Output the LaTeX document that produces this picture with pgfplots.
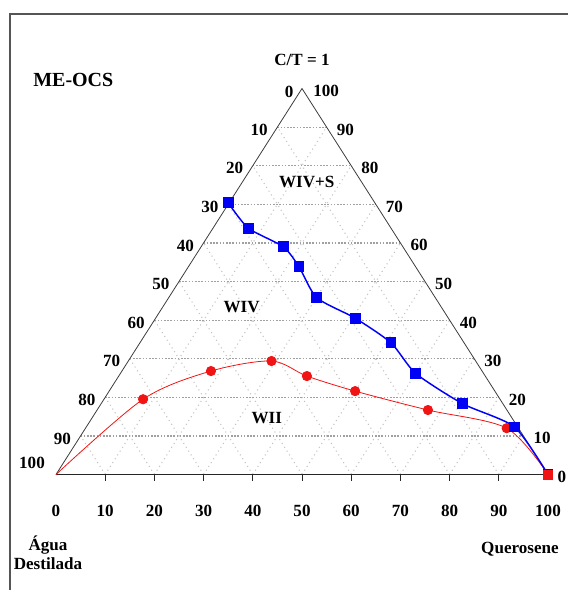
\documentclass[border=0pt]{standalone}
\usepackage{fontspec}
\setmainfont{Liberation Serif}
\usepackage{pgfplots}
\pgfplotsset{compat=1.18}

\definecolor{gridh}{RGB}{160,160,160}
\definecolor{gridd}{RGB}{195,195,195}
\definecolor{edgec}{RGB}{60,60,60}
\definecolor{framec}{RGB}{85,85,85}
\definecolor{bluser}{RGB}{0,0,245}
\definecolor{redser}{RGB}{240,20,20}

\begin{document}
\begin{tikzpicture}[x=3.69pt,y=2.895pt,
  lbl/.style={font=\fontsize{12.8}{14}\selectfont\bfseries, inner sep=0pt}]
\useasboundingbox (-11.382,-29.922) rectangle (104.065,122.927);
% outer frame
\draw[framec, line width=1.1pt] (-9.35,-31) -- (-9.35,119.3) -- (105,119.3);
% ternary grid
\foreach \k in {1,...,9} {
  \draw[gridd, line width=0.8pt, dash pattern=on 0.8pt off 2.6pt] (10*\k,0) -- (50+5*\k,100-10*\k);
  \draw[gridd, line width=0.8pt, dash pattern=on 0.8pt off 2.6pt] (10*\k,0) -- (5*\k,10*\k);
}
\foreach \k in {1,...,9} {
  \draw[gridh, line width=0.9pt, dash pattern=on 1.2pt off 1.2pt] (5*\k,10*\k) -- (100-5*\k,10*\k);
}
% triangle sides
\draw[edgec, line width=0.6pt] (0,0) -- (50,100) -- (100,0);
\draw[black!85, line width=1.1pt] (0,0) -- (100,0);
\foreach \k in {1,...,9} \draw[black!85, line width=0.7pt] (10*\k,0) -- ++(0,-5pt);

\begin{axis}[at={(0,0)}, anchor=south west, scale only axis,
  width=369pt, height=289.5pt,
  xmin=0, xmax=100, ymin=0, ymax=100,
  axis lines=none, clip=false]
% lower boundary (WII)
\addplot[redser, line width=0.6pt, smooth, tension=0.5,
  mark=*, mark size=3.5pt, mark indices={2,3,4,5,6,7,8},
  mark options={fill=redser, draw=redser}] coordinates {
  (0,0) (17.7,19.5) (31.5,26.8) (43.8,29.4) (51.0,25.5)
  (60.8,21.6) (75.6,16.7) (91.6,12.0) (100,0)};
% upper boundary (WIV / WIV+S)
\addplot[bluser, line width=1.1pt, smooth, tension=0.4,
  mark=square*, mark size=3.5pt,
  mark options={fill=bluser, draw=bluser}] coordinates {
  (35.0,70.4) (39.1,63.8) (46.2,59.0) (49.4,53.8) (53.0,45.8)
  (60.8,40.5) (68.1,34.1) (73.1,26.2) (82.7,18.3) (93.2,12.3) (100,0)};
\addplot[only marks, mark=square*, mark size=3.4pt,
  mark options={fill=redser, draw=redser}] coordinates {(100,0)};
\end{axis}

% titles and region names
\node[lbl, font=\fontsize{15}{16}\selectfont\bfseries, anchor=west] at (-4.67,102.2) {ME-OCS};
\node[lbl] at (50,107.4) {C/T = 1};
\node[lbl] at (50.96,75.85) {WIV+S};
\node[lbl] at (37.74,43.47) {WIV};
\node[lbl] at (42.83,14.56) {WII};

% side scales
\node[lbl] at (47.4,99.1) {0};
\node[lbl] at (54.9,99.4) {100};
\foreach \L in {10,20,...,90}
  \node[lbl] at ({(100-\L)/2-3.7},{100-\L-0.7}) {\L};
\node[lbl] at (-4.88,2.98) {100};
\foreach \R in {10,20,...,90}
  \node[lbl] at ({100-\R/2+3.8},{\R-0.6}) {\R};
\node[lbl] at (102.8,-0.57) {0};

% base scale
\foreach \x in {0,10,...,100}
  \node[lbl] at (\x,-9.46) {\x};
\node[lbl] at (-1.63,-18.26) {Água};
\node[lbl] at (-1.63,-23.2) {Destilada};
\node[lbl] at (94.3,-19.3) {Querosene};
\end{tikzpicture}
\end{document}
